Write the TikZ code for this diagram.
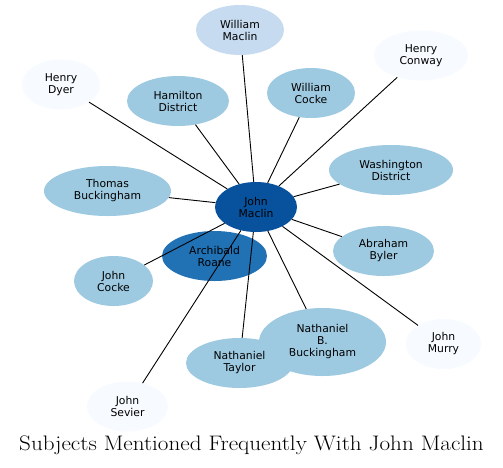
\documentclass[tikz,border=0pt]{standalone}
\usepackage{fontspec}
\usepackage{xcolor}
\usetikzlibrary{shapes.geometric}
\newfontfamily\nodefont{DejaVu Sans}
\newfontfamily\titlefont[FakeStretch=1.1]{Latin Modern Roman}
\definecolor{dark}{HTML}{08519C}
\definecolor{mid}{HTML}{2171B5}
\definecolor{light}{HTML}{9ECAE1}
\definecolor{pale}{HTML}{C6DBEF}
\definecolor{faint}{HTML}{F7FBFF}
\tikzset{
  subject/.style={ellipse, inner sep=0pt, align=center,
    minimum height=50pt, font=\nodefont\fontsize{10.8}{12}\selectfont},
  link/.style={black, line width=0.9pt}
}
\begin{document}
\begin{tikzpicture}[x=1pt,y=-1pt]
            \useasboundingbox (0,0) rectangle (503,467);
            \fill[white] (0,0) rectangle (503,467);
            % nodes
            \node[subject, fill=dark, minimum width=82pt] (jmaclin) at (256,207) {John\\Maclin};
            \node[subject, fill=mid, minimum width=105pt] (aroane) at (214.5,256) {Archibald\\Roane};
            \node[subject, fill=pale, minimum width=88pt] (wmaclin) at (240,30) {William\\Maclin};
            \node[subject, fill=faint, minimum width=94pt] (hconway) at (421,55.5) {Henry\\Conway};
            \node[subject, fill=faint, minimum width=78pt] (hdyer) at (61,84.5) {Henry\\Dyer};
            \node[subject, fill=light, minimum width=102pt] (hamilton) at (178,101) {Hamilton\\District};
            \node[subject, fill=light, minimum width=88pt] (wcocke) at (311,93) {William\\Cocke};
            \node[subject, fill=light, minimum width=124pt] (washington) at (391,170) {Washington\\District};
            \node[subject, fill=light, minimum width=127pt] (tbuck) at (107.5,191) {Thomas\\Buckingham};
            \node[subject, fill=light, minimum width=101pt] (abyler) at (383.5,251) {Abraham\\Byler};
            \node[subject, fill=light, minimum width=79pt] (jcocke) at (113.5,281) {John\\Cocke};
            \node[subject, fill=light, minimum width=127pt, minimum height=68pt] (nbbuck) at (322.5,342) {Nathaniel\\B.\\Buckingham};
            \node[subject, fill=light, minimum width=107pt] (ntaylor) at (239.5,363) {Nathaniel\\Taylor};
            \node[subject, fill=faint, minimum width=75pt] (jmurry) at (443.5,344) {John\\Murry};
            \node[subject, fill=faint, minimum width=81pt] (jsevier) at (127.5,406.5) {John\\Sevier};
            % links
            \foreach \other in {wmaclin,hconway,hdyer,hamilton,wcocke,washington,tbuck,abyler,jcocke,nbbuck,ntaylor,jmurry,jsevier}
                \draw[link] (jmaclin) -- (\other);
            \node (title) at (251.5,445.5) {\titlefont\fontsize{21}{25}\selectfont Subjects Mentioned Frequently With John Maclin};
        \end{tikzpicture}
\end{document}
